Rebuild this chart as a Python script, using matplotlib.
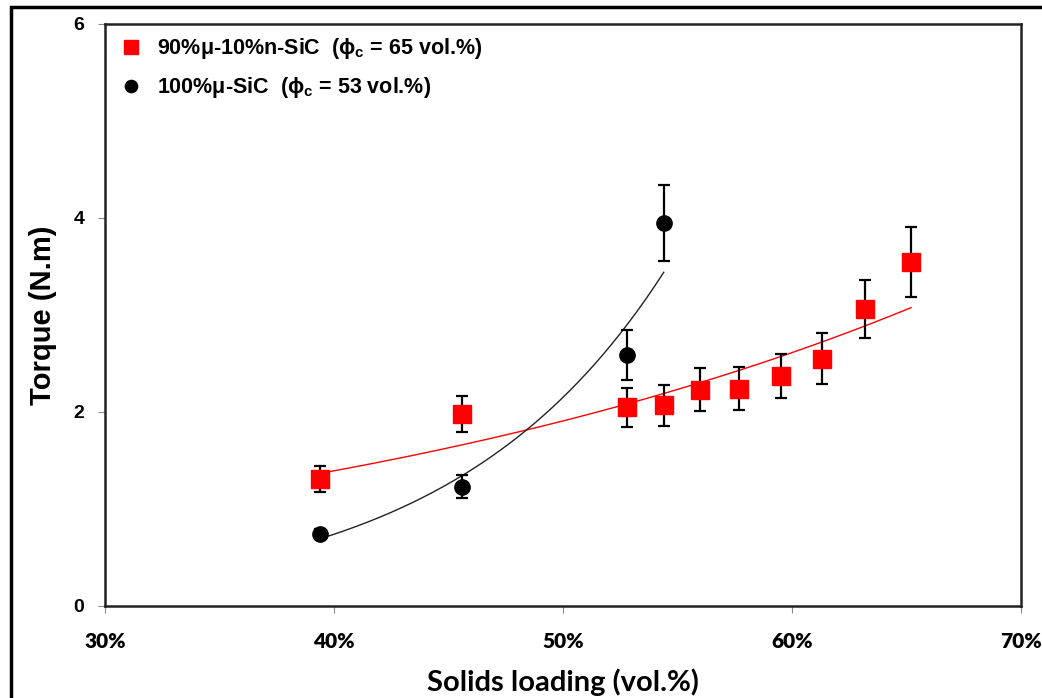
import numpy as np
import matplotlib

matplotlib.use("Agg")
import matplotlib.pyplot as plt
from matplotlib.patches import Rectangle

# Solids loading (vol.%) and torque (N.m)
MIX_X = [39.4, 45.6, 52.8, 54.4, 56.0, 57.7, 59.5, 61.3, 63.2, 65.2]
MIX_Y = [1.31, 1.98, 2.05, 2.07, 2.23, 2.24, 2.37, 2.55, 3.06, 3.55]
MIX_ERR = [0.13, 0.19, 0.20, 0.21, 0.22, 0.22, 0.23, 0.26, 0.30, 0.36]

MICRO_X = [39.4, 45.6, 52.8, 54.4]
MICRO_Y = [0.74, 1.23, 2.59, 3.95]
MICRO_ERR = [0.05, 0.12, 0.26, 0.39]

MIX_LABEL = "90%μ-10%n-SiC  (ϕ$_{c}$ = 65 vol.%)"
MICRO_LABEL = "100%μ-SiC  (ϕ$_{c}$ = 53 vol.%)"

XTICKS = [30, 40, 50, 60, 70]
YTICKS = [0, 2, 4, 6]


def exp_fit(x, y):
    # exponential trendline, y = a * exp(b x), fitted on log(y)
    b, ln_a = np.polyfit(x, np.log(y), 1)
    xs = np.linspace(min(x), max(x), 200)
    return xs, np.exp(ln_a) * np.exp(b * xs)


def main():
    plt.rcParams["mathtext.fontset"] = "custom"
    plt.rcParams["mathtext.rm"] = "Liberation Sans:bold"
    plt.rcParams["mathtext.it"] = "Liberation Sans:bold"

    fig = plt.figure(figsize=(10.42, 6.98), dpi=100)
    ax = fig.add_axes([105 / 1042, 1 - 606 / 698, (1021 - 105) / 1042, (606 - 24) / 698])

    # outer chart border
    fig.patches.append(Rectangle((11 / 1042, -0.05), 1.2, 1 - 7 / 698 + 0.05,
                                 transform=fig.transFigure, fill=False,
                                 edgecolor="black", lw=2.5))

    xs, ys = exp_fit(MIX_X, MIX_Y)
    ax.plot(xs, ys, color="red", lw=1.0, zorder=2)
    xs, ys = exp_fit(MICRO_X, MICRO_Y)
    ax.plot(xs, ys, color="#222222", lw=1.0, zorder=2)

    ax.errorbar(MIX_X, MIX_Y, yerr=MIX_ERR, fmt="s", color="red", ms=13,
                ecolor="black", elinewidth=1.6, capsize=4, capthick=1.6,
                label=MIX_LABEL, zorder=3)
    ax.errorbar(MICRO_X, MICRO_Y, yerr=MICRO_ERR, fmt="o", color="black", ms=11,
                ecolor="black", elinewidth=1.6, capsize=4, capthick=1.6,
                label=MICRO_LABEL, zorder=3)

    ax.set_xlim(30, 70)
    ax.set_ylim(0, 6)
    ax.set_xticks(XTICKS)
    ax.set_xticklabels(["{}%".format(t) for t in XTICKS], fontsize=15,
                       fontweight="heavy", family="Lato")
    ax.set_yticks(YTICKS)
    ax.set_yticklabels([str(t) for t in YTICKS], fontsize=14,
                       fontweight="bold", family="Liberation Sans")
    ax.tick_params(axis="x", length=5, color="#888888", pad=14)
    ax.tick_params(axis="y", length=5, color="#888888", pad=10)

    for sp in ax.spines.values():
        sp.set_color("#222222")
        sp.set_linewidth(1.8)

    ax.set_xlabel("Solids loading (vol.%)", fontsize=21, fontweight="bold",
                  family="Lato", labelpad=12)
    ax.set_ylabel("Torque (N.m)", fontsize=21, fontweight="bold",
                  family="Liberation Sans", labelpad=12)

    handles, labels = ax.get_legend_handles_labels()
    handles = [h[0] for h in handles]  # marker only, no error bar in legend
    ax.legend(handles, labels, loc="upper left", bbox_to_anchor=(-0.002, 1.005),
              frameon=False,
              prop={"family": "Liberation Sans", "weight": "bold", "size": 15.5},
              markerscale=0.8, handletextpad=0.6, handlelength=1.2,
              borderaxespad=0.3, labelspacing=0.65)

    fig.savefig("out.png", dpi=100)
    plt.close(fig)


if __name__ == "__main__":
    main()
